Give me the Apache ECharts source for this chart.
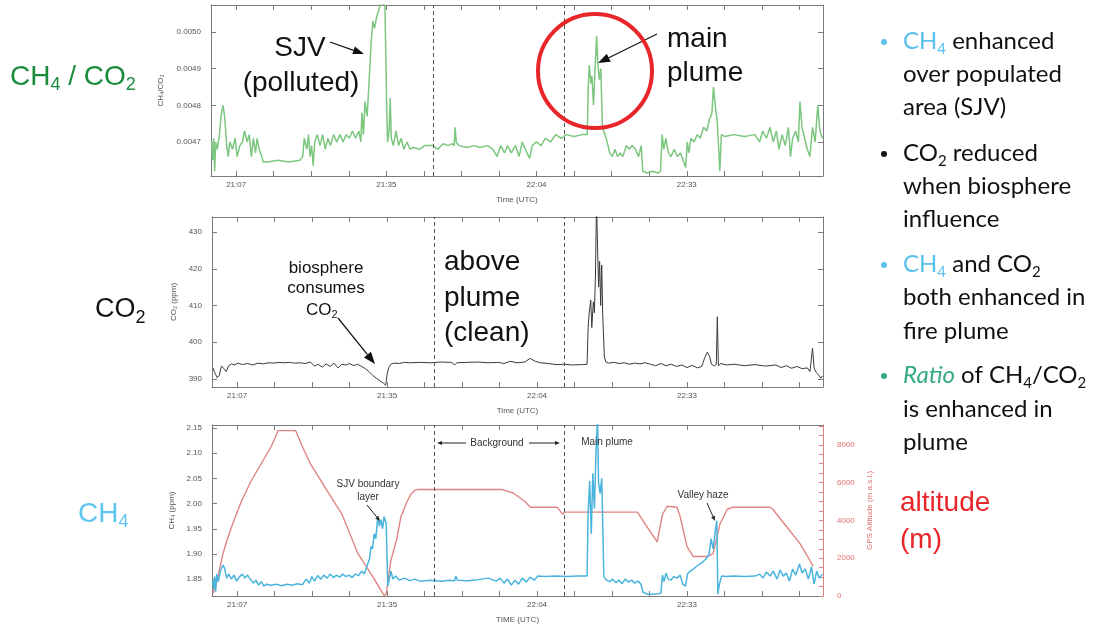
<!DOCTYPE html>
<html><head><meta charset="utf-8">
<script src="https://cdn.jsdelivr.net/npm/echarts@6/dist/echarts.min.js"></script>
<style>html,body{margin:0;padding:0;background:#fff}#c{width:1096px;height:625px}</style>
</head><body><div id="c"></div>
<script>
// ---- DATA (time = minutes after 21:00 UTC) ----
const tickLabels = ['21:07', '21:35', '22:04', '22:33'];
const tickTimes = [7, 35.667, 64.333, 93];
const dividerTimes = [44.6, 69.6];

const ratioTicks = [0.0047, 0.0048, 0.0049, 0.0050];
const co2Ticks = [390, 400, 410, 420, 430];
const ch4Ticks = [1.85, 1.90, 1.95, 2.00, 2.05, 2.10, 2.15];
const altTicks = [0, 2000, 4000, 6000, 8000];

const ratioData = [
 [2.3,0.00470],[2.5,0.00465],[2.7,0.00471],[2.9,0.00462],[3.1,0.00470],[3.4,0.00468],[3.8,0.00472],[4.2,0.00478],
 [4.5,0.00480],[4.8,0.00477],[5.2,0.00469],[5.5,0.00466],[5.8,0.00470],[6.3,0.00468],[6.8,0.00471],[7.2,0.00466],
 [7.7,0.00469],[8.2,0.00470],[8.6,0.00473],[9.1,0.00470],[9.5,0.00472],[9.9,0.00466],[10.3,0.00471],[10.7,0.00467],
 [11.0,0.00471],[11.4,0.00468],[11.9,0.00466],[12.2,0.004645],[13,0.004645],[15,0.00465],[17,0.004645],[19.2,0.00465],
 [19.7,0.00466],[20.0,0.00471],[20.5,0.00468],[20.8,0.00472],[21.1,0.00466],[21.4,0.00469],[21.7,0.004635],[22.0,0.00470],
 [22.5,0.00472],[23.0,0.00469],[23.5,0.00472],[24.0,0.00468],[24.5,0.00471],[25.0,0.00469],[25.6,0.00472],[26.2,0.00470],
 [26.8,0.00472],[27.4,0.00470],[28.0,0.00472],[28.6,0.00471],[29.2,0.00473],[29.8,0.00471],[30.4,0.00473],[30.8,0.00470],
 [31.0,0.00478],[31.3,0.00472],[31.6,0.00481],[32.0,0.00477],[32.2,0.00482],[32.5,0.00490],[32.8,0.00498],[33.1,0.00503],
 [33.4,0.00501],[33.8,0.00504],[34.2,0.00506],[34.6,0.00508],[35.0,0.00508],[35.4,0.00507],[35.7,0.00482],[35.9,0.00470],
 [36.2,0.00473],[36.4,0.00482],[36.6,0.00471],[37.0,0.00469],[37.5,0.00473],[38.0,0.00469],[38.5,0.00471],[39.0,0.00468],
 [39.6,0.00470],[40.2,0.00468],[40.8,0.004685],[42,0.00468],[43,0.00469],[44.5,0.00469],[45.5,0.00468],[46.5,0.004695],
 [47.5,0.00469],[48.2,0.004695],[48.6,0.00469],[48.8,0.00474],[49.0,0.00470],[49.5,0.00469],[51,0.004685],[52.5,0.00469],
 [53.5,0.004685],[55,0.00469],[56.0,0.00468],[56.8,0.00466],[57.5,0.00469],[58.2,0.00467],[58.8,0.00469],[59.5,0.00467],
 [60.3,0.00469],[61.0,0.00466],[61.6,0.00470],[62.2,0.00468],[63.0,0.004655],[63.5,0.00469],[64.3,0.00470],[65.2,0.00469],
 [66.0,0.00471],[67.0,0.00470],[68.0,0.00472],[69.0,0.00471],[70.0,0.00472],[71.5,0.004715],[73.0,0.00472],[74.0,0.00472],
 [74.2,0.00485],[74.4,0.00491],[74.7,0.00486],[74.9,0.00488],[75.2,0.00480],[75.5,0.00490],[75.8,0.00499],[76.0,0.00492],
 [76.3,0.00487],[76.6,0.00490],[76.9,0.00474],[77.4,0.00472],[77.8,0.00470],[78.3,0.00467],[78.8,0.00466],[79.3,0.00468],
 [79.8,0.00466],[80.3,0.00467],[80.8,0.00466],[81.5,0.00469],[82.0,0.00468],[82.6,0.00469],[83.2,0.00468],[83.8,0.00466],
 [84.3,0.00469],[84.6,0.00462],[85.5,0.004615],[86.5,0.00462],[87.5,0.004615],[88.0,0.00462],[88.3,0.00472],[88.6,0.00468],
 [89.0,0.00471],[89.5,0.00467],[90.0,0.00466],[90.6,0.00468],[91.2,0.00466],[91.8,0.00467],[92.3,0.00465],[92.8,0.00463],
 [93.1,0.00470],[93.4,0.00467],[93.8,0.00471],[94.4,0.00470],[95.0,0.00472],[95.6,0.00471],[96.2,0.00474],[96.8,0.00473],
 [97.3,0.00476],[97.8,0.00478],[98.1,0.00485],[98.5,0.00479],[98.8,0.00476],[99.1,0.00468],[99.3,0.00462],[99.6,0.00472],
 [100.2,0.004715],[102,0.00472],[104,0.004715],[106,0.00472],[106.9,0.00470],[107.5,0.00473],[108.2,0.00471],[108.9,0.00474],
 [109.5,0.00470],[110.1,0.00473],[110.6,0.00468],[111.2,0.00472],[111.8,0.00469],[112.4,0.00474],[112.8,0.00466],[113.2,0.00471],
 [113.8,0.00473],[114.3,0.00470],[114.6,0.00481],[115.0,0.00474],[115.5,0.00471],[116.0,0.00468],[116.5,0.00466],[117.0,0.00474],
 [117.5,0.00470],[118.0,0.00480],[118.4,0.00473],[118.9,0.00471]
];

const co2Data = [
 [2.4,393.0],[2.8,391.5],[3.2,390.3],[3.6,391.0],[4.0,393.5],[4.5,392.8],[4.9,392.0],[5.4,393.6],[5.9,394.1],[6.5,393.8],
 [7.2,394.3],[8.0,393.9],[9.0,394.2],[10.0,393.8],[11.0,394.3],[12.0,394.1],[13.0,394.4],[14.0,394.3],[15.0,394.5],[16.0,394.4],
 [17.0,394.5],[18.0,394.3],[19.0,394.4],[20.0,394.2],[21.0,394.6],[21.8,393.5],[22.5,394.0],[23.3,393.2],[24.0,394.1],[24.8,393.4],
 [25.5,394.3],[26.3,393.0],[27.0,394.0],[27.8,393.8],[28.5,394.2],[29.3,393.6],[30.0,394.0],[30.8,393.4],[31.5,392.8],[32.2,392.0],
 [32.9,391.0],[33.6,390.2],[34.3,389.5],[35.0,388.8],[35.4,388.3],[35.7,391.5],[36.0,393.2],[36.4,394.0],[37.0,394.3],[38.0,394.2],
 [39.0,394.5],[40.0,394.4],[42,394.5],[44,394.4],[46,394.6],[48,394.5],[48.6,393.8],[49.0,394.4],[51,394.5],[53,394.6],
 [55,394.4],[57,394.5],[58,394.2],[59.2,394.8],[60.5,394.4],[62,394.6],[63,395.6],[64,394.8],[65,394.4],[66.5,394.2],
 [68,393.9],[69.5,394.0],[71,393.8],[73,393.9],[73.9,394.0],[74.1,404.0],[74.3,408.0],[74.6,411.5],[74.8,404.0],[75.1,411.0],
 [75.3,408.0],[75.5,418.0],[75.7,438.0],[75.9,438.0],[76.1,415.0],[76.3,422.0],[76.5,410.0],[76.7,421.0],[76.9,407.0],[77.2,396.0],
 [77.5,394.6],[78,394.3],[79,394.5],[80,394.2],[81,394.4],[82,394.0],[83,394.3],[84,394.1],[85,394.4],[86,394.0],
 [87,393.6],[88,394.2],[89,393.6],[90,394.0],[91,393.4],[92,393.8],[93,393.1],[94,393.7],[95,393.0],[95.8,393.4],
 [96.4,395.8],[96.9,397.3],[97.3,396.2],[97.7,394.0],[98.2,393.5],[98.6,394.0],[98.8,406.9],[99.0,393.6],[99.5,394.2],[100.5,393.8],
 [102,394.0],[104,393.6],[106,393.9],[108,393.5],[110,393.8],[111,393.1],[112,393.6],[113,392.9],[114,393.4],[115,392.8],
 [116,393.0],[116.5,392.0],[117.0,398.4],[117.3,393.0],[117.7,391.8],[118.2,391.0],[118.6,390.2],[118.9,390.8]
];

const ch4Data = [
 [2.3,1.848],[2.5,1.830],[2.7,1.855],[2.9,1.825],[3.1,1.860],[3.4,1.845],[3.8,1.866],[4.3,1.878],[4.6,1.872],[5.0,1.852],
 [5.4,1.860],[5.9,1.850],[6.4,1.858],[6.9,1.846],[7.5,1.855],[8.0,1.860],[8.5,1.852],[9.0,1.858],[9.6,1.849],[10.1,1.842],
 [10.6,1.848],[11.1,1.838],[11.6,1.845],[12.1,1.836],[12.6,1.840],[13.5,1.838],[14.5,1.840],[15.5,1.837],[16.5,1.840],[17.5,1.838],
 [18.5,1.841],[19.5,1.839],[20.2,1.850],[20.8,1.842],[21.3,1.855],[21.8,1.846],[22.4,1.857],[23.0,1.850],[23.6,1.858],[24.2,1.852],
 [24.8,1.860],[25.4,1.853],[26.0,1.858],[26.6,1.854],[27.2,1.860],[27.8,1.855],[28.4,1.858],[29.0,1.853],[29.6,1.860],[30.2,1.857],
 [30.8,1.866],[31.3,1.860],[31.8,1.875],[32.3,1.890],[32.6,1.915],[32.9,1.910],[33.2,1.940],[33.5,1.930],[33.9,1.974],[34.2,1.955],
 [34.5,1.968],[34.8,1.950],[35.1,1.974],[35.5,1.960],[35.8,1.836],[36.1,1.850],[36.4,1.866],[36.8,1.850],[37.3,1.856],[38.0,1.848],
 [39,1.852],[40,1.847],[41,1.850],[42,1.846],[44,1.848],[46,1.846],[47.5,1.848],[48.6,1.847],[48.8,1.856],[49.1,1.848],
 [51,1.847],[53,1.849],[55,1.852],[56.5,1.846],[57.3,1.852],[58.0,1.842],[58.7,1.850],[59.4,1.838],[60.1,1.848],[60.8,1.840],
 [61.5,1.852],[62.3,1.844],[63.0,1.854],[63.8,1.848],[64.5,1.856],[66,1.855],[68,1.856],[70,1.855],[72,1.856],[73.9,1.856],
 [74.1,1.980],[74.4,2.045],[74.7,1.940],[75.0,2.060],[75.3,1.990],[75.6,2.100],[75.9,2.170],[76.1,2.040],[76.4,2.020],[76.7,2.050],
 [76.9,1.960],[77.1,1.855],[77.6,1.848],[78.2,1.845],[78.8,1.850],[79.4,1.843],[80.0,1.848],[80.6,1.841],[81.2,1.850],[81.8,1.844],
 [82.4,1.848],[83.0,1.842],[83.6,1.846],[84.2,1.840],[84.6,1.824],[85.5,1.820],[86.5,1.820],[87.5,1.821],[88.0,1.822],[88.3,1.858],
 [88.6,1.845],[89.0,1.862],[89.4,1.850],[89.9,1.848],[90.5,1.855],[91.1,1.852],[91.7,1.858],[92.2,1.840],[92.7,1.836],[93.1,1.860],
 [93.6,1.866],[94.2,1.870],[94.8,1.875],[95.4,1.880],[96.0,1.884],[96.6,1.890],[97.2,1.898],[97.6,1.930],[98.0,1.910],[98.4,1.945],
 [98.7,1.966],[98.9,1.820],[99.2,1.840],[99.6,1.856],[100.5,1.855],[102,1.856],[104,1.855],[106,1.856],[106.9,1.860],[107.5,1.852],
 [108.2,1.864],[108.9,1.856],[109.5,1.866],[110.2,1.850],[110.8,1.868],[111.4,1.856],[112.0,1.862],[112.6,1.846],[113.2,1.870],[113.8,1.858],
 [114.5,1.880],[115.0,1.862],[115.6,1.870],[116.2,1.850],[116.8,1.874],[117.3,1.840],[117.8,1.866],[118.3,1.852],[118.9,1.860]
];

const altData = [
 [2.4,150],[3.0,600],[4.3,2240],[5.0,2900],[6.0,3700],[7.8,5000],[9.7,6100],[11.6,7000],[13.5,7900],[14.3,8400],
 [14.8,8750],[18.2,8750],[19.5,7900],[21.0,7000],[24.4,5480],[27.0,4350],[30.1,2240],[33.0,1000],[34.5,300],[35.1,30],
 [35.5,100],[36.4,1880],[37.5,3000],[38.3,4180],[39.5,5000],[40.2,5380],[41.0,5600],[41.7,5640],[57.5,5640],[59.8,5450],
 [62.0,5000],[63.1,4700],[68.2,4700],[69.2,4330],[69.6,4440],[83.5,4440],[85.4,3650],[87.3,2870],[88.3,4300],[89.2,4750],
 [91.1,4700],[91.7,4200],[93.0,2610],[94.2,2090],[96.8,2090],[98.0,2240],[99.3,3810],[100.7,4590],[101.8,4700],[108.9,4700],
 [109.4,4590],[112.1,3650],[114.6,2770],[116.5,1880],[117.1,1570]
];

// ---- AXIS HELPERS ----
const X_MIN = 2.2, X_MAX = 119.0;
const minorStep = (tickTimes[1] - tickTimes[0]) / 4;
const xTicks = [];
for (let k = 0; tickTimes[0] + k * minorStep <= X_MAX; k++) xTicks.push(+(tickTimes[0] + k * minorStep).toFixed(3));
const xFmt = v => { const i = tickTimes.findIndex(t => Math.abs(t - v) < 0.01); return i >= 0 ? tickLabels[i] : ''; };

const AX = '#7a7a7a', LBL = '#555', FF = 'Liberation Sans';

function xAxes(g, name) {
  const base = { type: 'value', gridIndex: g, min: X_MIN, max: X_MAX, splitLine: { show: false },
    axisLine: { show: true, lineStyle: { color: AX, width: 1 } },
    axisTick: { show: true, inside: true, length: 5, customValues: xTicks, lineStyle: { color: AX } } };
  return [
    Object.assign({}, base, { position: 'bottom', name: name, nameLocation: 'middle', nameGap: 20,
      nameTextStyle: { fontSize: 8, color: LBL, fontFamily: FF },
      axisLabel: { show: true, customValues: tickTimes, formatter: xFmt, fontSize: 8, color: LBL, fontFamily: FF, margin: 5 } }),
    Object.assign({}, base, { position: 'top', axisLabel: { show: false } })
  ];
}
function yAxes(g, min, max, ticks, dec, name, gap) {
  const base = { type: 'value', gridIndex: g, min: min, max: max, splitLine: { show: false },
    axisLine: { show: true, lineStyle: { color: AX, width: 1 } },
    axisTick: { show: true, inside: true, length: 5, customValues: ticks, lineStyle: { color: AX } } };
  return [
    Object.assign({}, base, { position: 'left', name: name, nameLocation: 'middle', nameGap: gap, nameRotate: 90,
      nameTextStyle: { fontSize: 8, color: LBL, fontFamily: FF },
      axisLabel: { show: true, customValues: ticks, formatter: v => v.toFixed(dec), fontSize: 8, color: LBL, fontFamily: FF, margin: 10 } }),
    Object.assign({}, base, { position: 'right', axisLabel: { show: false } })
  ];
}

const xAxis = [].concat(xAxes(0, 'Time (UTC)'), xAxes(1, 'Time (UTC)'), xAxes(2, 'TIME (UTC)'));
const yTop = yAxes(0, 0.004607, 0.005074, ratioTicks, 4, 'CH₄/CO₂', 46);
const yMid = yAxes(1, 387.8, 434.1, co2Ticks, 0, 'CO₂ (ppm)', 32);
const yBot = yAxes(2, 1.8165, 2.156, ch4Ticks, 2, 'CH₄ (ppm)', 34);
const altMinor = [];
for (let v = 0; v <= 9000; v += 500) altMinor.push(v);
const altAxis = { type: 'value', gridIndex: 2, position: 'right', min: 0, max: 9050,
  name: 'GPS Altitude (m a.s.l.)', nameLocation: 'middle', nameGap: 34, nameRotate: 90,
  nameTextStyle: { fontSize: 8, color: '#e07070', fontFamily: FF },
  splitLine: { show: false },
  axisLine: { show: true, lineStyle: { color: '#d98080', width: 1 } },
  axisTick: { show: true, inside: true, length: 4, customValues: altMinor, lineStyle: { color: '#d98080' } },
  axisLabel: { show: true, customValues: altTicks, formatter: v => String(v), fontSize: 8, color: '#e07070', fontFamily: FF, margin: 14 } };
const yAxis = [yTop[0], yTop[1], yMid[0], yMid[1], yBot[0], altAxis];

const divider = { silent: true, symbol: ['none', 'none'], label: { show: false },
  lineStyle: { type: [4, 3], color: '#555', width: 1 }, data: dividerTimes.map(t => ({ xAxis: t })) };

// ---- GRAPHIC HELPERS (annotations) ----
function arrow(x1, y1, x2, y2, hl, hw, color, lw) {
  const a = Math.atan2(y2 - y1, x2 - x1);
  const bx = x2 - hl * Math.cos(a), by = y2 - hl * Math.sin(a);
  const px = -Math.sin(a) * hw / 2, py = Math.cos(a) * hw / 2;
  return [
    { type: 'line', z: 100, shape: { x1: x1, y1: y1, x2: bx, y2: by }, style: { stroke: color, lineWidth: lw } },
    { type: 'polygon', z: 100, shape: { points: [[x2, y2], [bx + px, by + py], [bx - px, by - py]] }, style: { fill: color } }
  ];
}
function T(x, y, text, size, color, align, extra) {
  return { type: 'text', z: 100, x: x, y: y, style: Object.assign({ text: text, fontSize: size, fontFamily: FF,
    fill: color || '#111', align: align || 'left', verticalAlign: 'middle' }, extra || {}) };
}
function richSub(size, fam, color, lh) {
  return {
    n: { fontSize: size, fontFamily: fam, fill: color, lineHeight: lh },
    s: { fontSize: Math.round(size * 0.65), fontFamily: fam, fill: color, lineHeight: Math.round(size * 0.8), verticalAlign: 'bottom' }
  };
}
function R(x, y, text, size, color, fam, align) {
  const lh = Math.round(size * 1.25);
  return { type: 'text', z: 100, x: x, y: y, style: { text: text, rich: richSub(size, fam || FF, color, lh),
    align: align || 'left', verticalAlign: 'middle', fill: color } };
}

const BF = 'Lato', BS = 24, BLUE = '#5bc0eb', GREEN_T = '#33aa80';
function bulletLine(y, text) {
  return { type: 'text', z: 100, x: 903, y: y, style: { text: text, rich: bRich(), verticalAlign: 'middle', align: 'left' } };
}
function bRich() {
  const lh = 32;
  return {
    n: { fontSize: BS, fontFamily: BF, fill: '#111', lineHeight: lh },
    s: { fontSize: 15, fontFamily: BF, fill: '#111', lineHeight: 18, verticalAlign: 'bottom' },
    b: { fontSize: BS, fontFamily: BF, fill: BLUE, lineHeight: lh },
    bs: { fontSize: 15, fontFamily: BF, fill: BLUE, lineHeight: 18, verticalAlign: 'bottom' },
    g: { fontSize: BS, fontFamily: BF, fill: GREEN_T, lineHeight: lh, fontStyle: 'italic' }
  };
}
function dot(y, color) { return { type: 'circle', z: 100, shape: { cx: 884, cy: y + 1, r: 3 }, style: { fill: color } }; }

const graphic = [].concat(
  // left panel labels
  R(10, 77, '{n|CH}{s|4}{n| / CO}{s|2}', 28, '#1a8c3c'),
  R(95, 310, '{n|CO}{s|2}', 27, '#111'),
  R(78, 514, '{n|CH}{s|4}', 28, '#5ec4f0'),
  // right altitude label
  T(900, 503, 'altitude', 28, '#e8262a'),
  T(900, 540, '(m)', 28, '#e8262a'),
  // top panel annotations
  T(300, 48, 'SJV', 28, '#111', 'center'),
  T(301, 83, '(polluted)', 28, '#111', 'center'),
  arrow(330, 42, 364, 54, 11, 8, '#111', 1.2),
  T(667, 39, 'main', 28, '#111'),
  T(667, 73, 'plume', 28, '#111'),
  arrow(657, 34, 598, 63, 12, 9, '#111', 1.2),
  [{ type: 'circle', z: 100, shape: { cx: 595, cy: 71, r: 57 }, style: { fill: 'rgba(0,0,0,0)', stroke: '#e8262a', lineWidth: 4 } }],
  // middle panel annotations
  T(326, 268, 'biosphere', 17, '#111', 'center'),
  T(326, 288, 'consumes', 17, '#111', 'center'),
  R(306, 310, '{n|CO}{s|2}', 17, '#111'),
  arrow(338, 318, 375, 364, 12, 9, '#111', 1.2),
  T(444, 262, 'above', 28, '#111'),
  T(444, 298, 'plume', 28, '#111'),
  T(444, 333, '(clean)', 28, '#111'),
  // bottom panel annotations
  T(368, 484, 'SJV boundary', 10, '#333', 'center'),
  T(368, 497, 'layer', 10, '#333', 'center'),
  arrow(367, 505, 380, 521, 5, 4, '#222', 1),
  T(497, 443, 'Background', 10, '#333', 'center'),
  arrow(466, 443, 437, 443, 5, 4, '#222', 1),
  arrow(529, 443, 560, 443, 5, 4, '#222', 1),
  T(607, 442, 'Main plume', 10, '#333', 'center'),
  T(703, 495, 'Valley haze', 10, '#333', 'center'),
  arrow(707, 503, 715, 521, 5, 4, '#222', 1),
  // bullets
  dot(41, BLUE), bulletLine(41, '{b|CH}{bs|4}{n| enhanced}'),
  bulletLine(74, '{n|over populated}'),
  bulletLine(107, '{n|area (SJV)}'),
  dot(153, '#111'), bulletLine(153, '{n|CO}{s|2}{n| reduced}'),
  bulletLine(186, '{n|when biosphere}'),
  bulletLine(219, '{n|influence}'),
  dot(264, BLUE), bulletLine(264, '{b|CH}{bs|4}{n| and CO}{s|2}'),
  bulletLine(297, '{n|both enhanced in}'),
  bulletLine(331, '{n|fire plume}'),
  dot(375, GREEN_T), bulletLine(375, '{g|Ratio}{n| of CH}{s|4}{n|/CO}{s|2}'),
  bulletLine(409, '{n|is enhanced in}'),
  bulletLine(442, '{n|plume}')
);

const option = {
  animation: false,
  backgroundColor: '#ffffff',
  grid: [
    { left: 211, top: 5, width: 612, height: 171 },
    { left: 212, top: 217, width: 611, height: 170 },
    { left: 212, top: 425, width: 611, height: 173 }
  ],
  xAxis: xAxis,
  yAxis: yAxis,
  series: [
    { type: 'line', name: 'CH4/CO2', xAxisIndex: 0, yAxisIndex: 0, data: ratioData, symbol: 'none',
      lineStyle: { color: '#7cc67f', width: 1.5 }, markLine: divider },
    { type: 'line', name: 'CO2', xAxisIndex: 2, yAxisIndex: 2, data: co2Data, symbol: 'none',
      lineStyle: { color: '#3a3a3a', width: 1 }, markLine: divider },
    { type: 'line', name: 'Altitude', xAxisIndex: 4, yAxisIndex: 5, data: altData, symbol: 'none',
      lineStyle: { color: '#e08484', width: 1.4 } },
    { type: 'line', name: 'CH4', xAxisIndex: 4, yAxisIndex: 4, data: ch4Data, symbol: 'none',
      lineStyle: { color: '#4ab4dc', width: 1.5 }, markLine: divider }
  ],
  graphic: graphic
};
const chart = echarts.init(document.getElementById('c'), null, { renderer: 'canvas' });
chart.setOption(option);
</script>
</body></html>
